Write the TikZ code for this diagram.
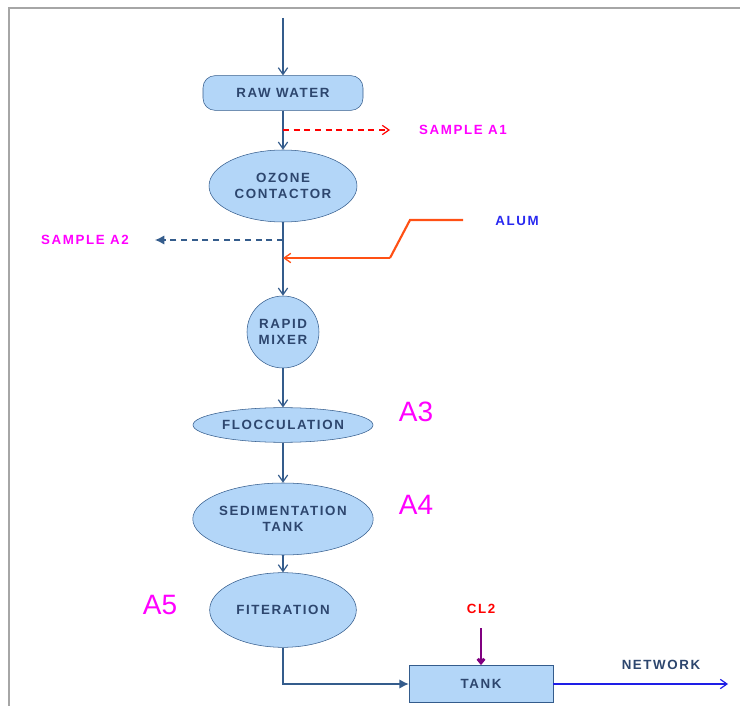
\documentclass[tikz,border=0pt]{standalone}
\usepackage{fontspec}
\setmainfont{Liberation Sans}
\newfontfamily\lblfont[LetterSpace=12]{Liberation Sans}
\usetikzlibrary{shapes,arrows.meta}
\definecolor{procfill}{RGB}{179,214,248}
\definecolor{procline}{RGB}{52,92,140}
\definecolor{proctext}{RGB}{45,70,110}
\definecolor{smplmag}{RGB}{255,0,255}
\definecolor{alumred}{RGB}{255,80,20}
\definecolor{alumblue}{RGB}{40,40,240}
\definecolor{clpurple}{RGB}{128,0,128}
\definecolor{netblue}{RGB}{30,30,230}

\begin{document}
\begin{tikzpicture}[x=0.75pt,y=-0.75pt,>={Straight Barb[length=5pt,width=7pt]},
  proc/.style={draw=procline,fill=procfill,text=proctext,font=\lblfont\bfseries\fontsize{10}{12}\selectfont,align=center,inner sep=0pt},
  flow/.style={draw=procline,line width=0.9pt,->},
  sampleline/.style={line width=0.9pt,dash pattern=on 4.5pt off 3.5pt},
  tag/.style={font=\lblfont\bfseries\fontsize{10}{12}\selectfont},
  stage/.style={text=smplmag,font=\fontsize{21}{23}\selectfont}]
			\useasboundingbox (0,0) rectangle (740,706);
			%frame
			\draw [gray!70,line width=1.5pt] (9,706) -- (9,8) -- (740,8);

			%process units
			\node [proc,rectangle,rounded corners=9pt,minimum width=120pt,minimum height=26pt] at (283,93) (raw) {RAW WATER};
			\node [proc,ellipse,minimum width=111pt,minimum height=54pt] at (283,186) (ozone) {OZONE\\CONTACTOR};
			\node [proc,circle,minimum size=54pt] at (283,332) (mixer) {RAPID\\MIXER};
			\node [proc,ellipse,minimum width=135pt,minimum height=26pt] at (283,425) (flocc) {FLOCCULATION};
			\node [proc,ellipse,minimum width=135pt,minimum height=54pt] at (283,519) (sed) {SEDIMENTATION\\TANK};
			\node [proc,ellipse,minimum width=110pt,minimum height=56pt] at (283,610) (filt) {FITERATION};
			\node [proc,rectangle,minimum width=108pt,minimum height=28pt] at (481,684) (tank) {TANK};

			%labels
			\node [tag,text=smplmag] at (463,130) (sampleA1) {SAMPLE A1};
			\node [tag,text=smplmag] at (85,240) (sampleA2) {SAMPLE A2};
			\node [tag,text=alumblue] at (517,221) (alum) {ALUM};
			\node [tag,text=red] at (481,609) (cl2) {CL2};
			\node [tag,text=proctext] at (661,665) (network) {NETWORK};
			\node [stage] at (416,412) (a3) {A3};
			\node [stage] at (416,505) (a4) {A4};
			\node [stage] at (160,605) (a5) {A5};

			%points on the line
			\coordinate (inlet) at (283,18);
			\coordinate (sa1) at (283,130);
			\coordinate (sa1end) at (390,130);
			\coordinate (sa2) at (283,240);
			\coordinate (sa2end) at (155,240);
			\coordinate (alum1) at (463,220);
			\coordinate (alum2) at (410,220);
			\coordinate (alum3) at (390,258);
			\coordinate (alumin) at (283,258);
			\coordinate (cl2top) at (481,628);
			\coordinate (netend) at (728,684);

			%main flow
			\draw [flow] (inlet) -- (raw.north);
			\draw [flow] (raw.south) -- (ozone.north);
			\draw [flow] (ozone.south) -- (mixer.north);
			\draw [flow] (mixer.south) -- (flocc.north);
			\draw [flow] (flocc.south) -- (sed.north);
			\draw [flow] (sed.south) -- (filt.north);
			\draw [procline,line width=0.9pt,-{Latex[length=7pt,width=7pt]}] (filt.south) |- (tank.west);
			\draw [netblue,line width=0.9pt,->] (tank.east) -- (netend);

			%samples and dosing
			\draw [red,sampleline,->] (sa1) -- (sa1end);
			\draw [procline,sampleline,-{Latex[length=7pt,width=7pt]}] (sa2) -- (sa2end);
			\draw [alumred,line width=1.6pt] (alum1) -- (alum2) -- (alum3);
			\draw [alumred,line width=1pt,->] (alum3) -- (alumin);
			\draw [clpurple,line width=2.2pt,-{Straight Barb[length=3pt,width=5pt]}] (cl2top) -- (tank.north);
		\end{tikzpicture}
\end{document}
